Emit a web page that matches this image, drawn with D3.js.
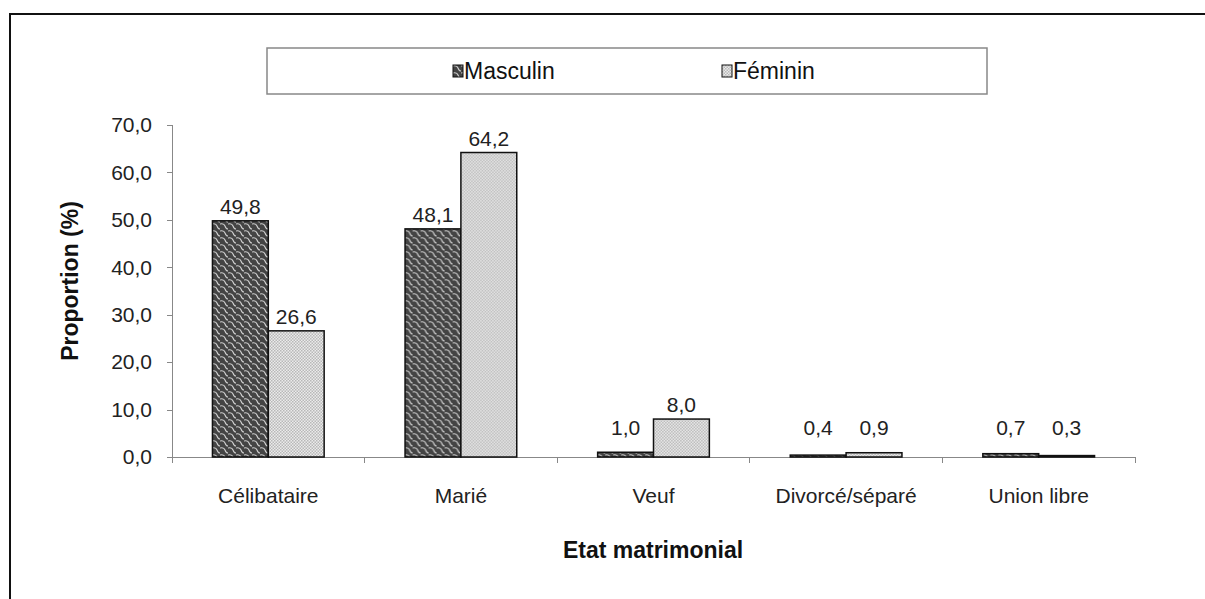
<!DOCTYPE html>
<html>
<head>
<meta charset="utf-8">
<script src="https://d3js.org/d3.v7.min.js"></script>
<style>
  body { margin: 0; background: #fff; overflow: hidden; }
  svg { font-family: "Liberation Sans", Arial, sans-serif; display: block; }
  .axis path, .axis line { stroke: #888; shape-rendering: crispEdges; }
  .axis text { font-size: 21px; fill: #222; }
</style>
</head>
<body>
<script>

  // data
  var categories = ["Célibataire", "Marié", "Veuf", "Divorcé/séparé", "Union libre"];
  var seriesNames = ["Masculin", "Féminin"];
  var masculin = [49.8, 48.1, 1.0, 0.4, 0.7];
  var feminin = [26.6, 64.2, 8.0, 0.9, 0.3];
  var yTicks = [0, 10, 20, 30, 40, 50, 60, 70];

  var W = 1205, H = 599;
  var margin = {top: 125, left: 172, right: 70, bottom: 142};
  var width = W - margin.left - margin.right,
      height = H - margin.top - margin.bottom;

  var svg = d3.select("body").append("svg")
      .attr("width", W)
      .attr("height", H);

  // fill patterns
  var defs = svg.append("defs");
  var pm = defs.append("pattern")
      .attr("id", "pat-m")
      .attr("patternUnits", "userSpaceOnUse")
      .attr("width", 8).attr("height", 7);
  pm.append("rect").attr("width", 8).attr("height", 7).attr("fill", "#444");
  pm.append("path")
      .attr("d", "M0,1 Q4,0 5,3 Q6,6 8,6")
      .attr("fill", "none").attr("stroke", "#cfcfcf").attr("stroke-width", 1.1);

  var pf = defs.append("pattern")
      .attr("id", "pat-f")
      .attr("patternUnits", "userSpaceOnUse")
      .attr("width", 3).attr("height", 3);
  pf.append("rect").attr("width", 3).attr("height", 3).attr("fill", "#ebebeb");
  pf.append("rect").attr("width", 1.5).attr("height", 1.5).attr("fill", "#b8b8b8");
  pf.append("rect").attr("x", 1.5).attr("y", 1.5).attr("width", 1.5).attr("height", 1.5).attr("fill", "#b8b8b8");

  var fills = ["url(#pat-m)", "url(#pat-f)"];

  // outer frame: only top and left edges are visible
  svg.append("path")
      .attr("d", "M10,700V14H1300")
      .attr("fill", "none")
      .attr("stroke", "#111")
      .attr("stroke-width", 2);

  var g = svg.append("g")
      .attr("transform", "translate(" + margin.left + "," + margin.top + ")");

  var x = d3.scaleBand().domain(categories).range([0, width]);
  var x1 = d3.scaleBand().domain(seriesNames).range([x.bandwidth() * 0.21, x.bandwidth() * 0.79]);
  var y = d3.scaleLinear().domain([0, 70]).range([height, 0]);

  // y axis
  var yAxis = g.append("g")
      .attr("class", "axis")
      .call(d3.axisLeft(y).tickValues(yTicks).tickSize(5).tickPadding(15)
        .tickFormat(function(d) { return d3.format(".1f")(d).replace(".", ","); }));
  yAxis.select(".domain").attr("d", "M0," + y(70) + "V" + y(0));

  // x axis: ticks at category boundaries
  var xAxis = g.append("g")
      .attr("class", "axis")
      .attr("transform", "translate(0," + height + ")");
  xAxis.append("line").attr("x1", 0).attr("x2", width).attr("y1", 0).attr("y2", 0);
  xAxis.selectAll(".tk")
      .data(d3.range(categories.length + 1))
    .enter().append("line")
      .attr("class", "tk")
      .attr("x1", function(i) { return i * x.step(); })
      .attr("x2", function(i) { return i * x.step(); })
      .attr("y1", 0).attr("y2", 6);
  xAxis.selectAll(".lbl")
      .data(categories)
    .enter().append("text")
      .attr("class", "lbl")
      .attr("x", function(d) { return x(d) + x.bandwidth() / 2; })
      .attr("y", 46)
      .attr("text-anchor", "middle")
      .text(function(d) { return d; });

  // bars
  var rows = categories.map(function(c, i) {
    return {cat: c, vals: [masculin[i], feminin[i]]};
  });

  var groups = g.selectAll(".grp")
      .data(rows)
    .enter().append("g")
      .attr("class", "grp")
      .attr("transform", function(d) { return "translate(" + x(d.cat) + ",0)"; });

  groups.selectAll("rect")
      .data(function(d) { return d.vals.map(function(v, j) { return {s: seriesNames[j], v: v, j: j}; }); })
    .enter().append("rect")
      .attr("x", function(d) { return x1(d.s); })
      .attr("y", function(d) { return y(d.v); })
      .attr("width", x1.bandwidth())
      .attr("height", function(d) { return y(0) - y(d.v); })
      .attr("fill", function(d) { return fills[d.j]; })
      .attr("stroke", "#111")
      .attr("stroke-width", 1.5);

  groups.selectAll(".val")
      .data(function(d) { return d.vals.map(function(v, j) { return {s: seriesNames[j], v: v}; }); })
    .enter().append("text")
      .attr("class", "val")
      .attr("x", function(d) { return x1(d.s) + x1.bandwidth() / 2; })
      .attr("y", function(d) { return Math.min(y(d.v) - 7, y(0) - 22); })
      .attr("text-anchor", "middle")
      .style("font-size", "21px")
      .style("fill", "#222")
      .text(function(d) { return d3.format(".1f")(d.v).replace(".", ","); });

  // axis titles
  svg.append("text")
      .attr("x", 653)
      .attr("y", 558)
      .attr("text-anchor", "middle")
      .style("font-size", "23px")
      .style("font-weight", "bold")
      .style("fill", "#111")
      .text("Etat matrimonial");

  svg.append("text")
      .attr("transform", "translate(78," + (margin.top + height / 2 - 10) + ") rotate(-90)")
      .attr("text-anchor", "middle")
      .style("font-size", "23px")
      .style("font-weight", "bold")
      .style("fill", "#111")
      .text("Proportion (%)");

  // legend
  var leg = svg.append("g").attr("transform", "translate(267,48)");
  leg.append("rect")
      .attr("width", 720).attr("height", 46)
      .attr("fill", "#fff")
      .attr("stroke", "#888")
      .attr("stroke-width", 1.5);
  var legX = [186, 455];
  var items = leg.selectAll(".li")
      .data(seriesNames)
    .enter().append("g")
      .attr("class", "li")
      .attr("transform", function(d, i) { return "translate(" + legX[i] + ",17)"; });
  items.append("rect")
      .attr("width", 10).attr("height", 12)
      .attr("fill", function(d, i) { return fills[i]; })
      .attr("stroke", "#111").attr("stroke-width", 1);
  items.append("text")
      .attr("x", 11).attr("y", 14)
      .style("font-size", "23px")
      .style("fill", "#111")
      .text(function(d) { return d; });

</script>
</body>
</html>
